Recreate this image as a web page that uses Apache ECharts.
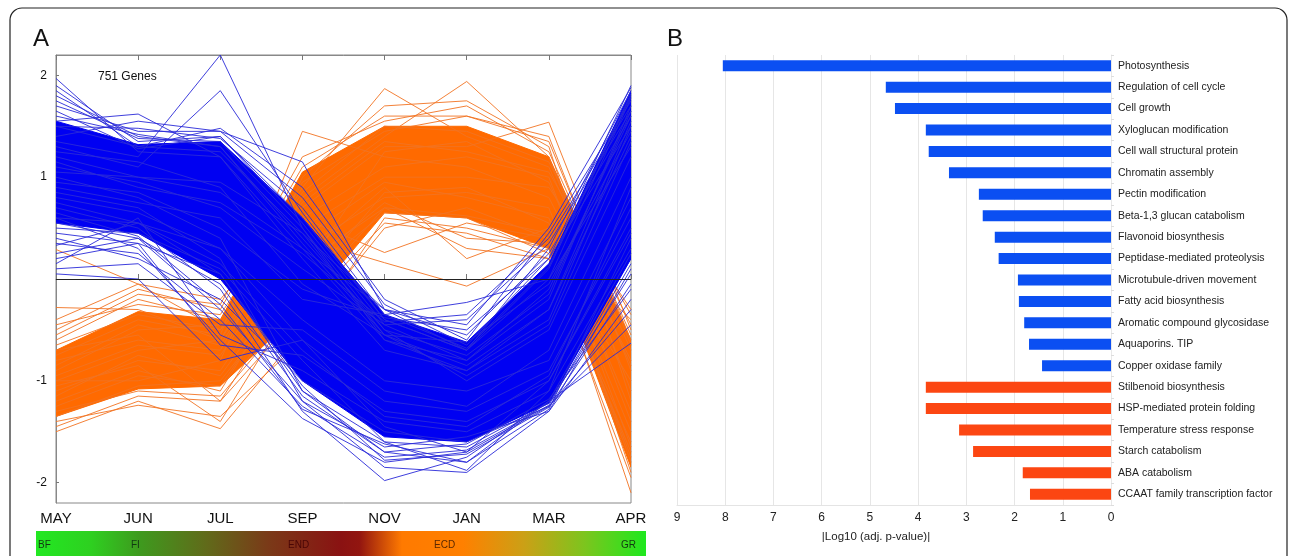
<!DOCTYPE html>
<html>
<head>
<meta charset="utf-8">
<script src="https://cdn.jsdelivr.net/npm/echarts@6/dist/echarts.min.js"></script>
<style>
  html, body { margin: 0; padding: 0; background: #fff; }
  #chart { width: 1290px; height: 556px; }
</style>
</head>
<body>
<div id="chart"></div>
<script>
// ---- Panel A: expression profiles of the two gene clusters ----
const months = ['MAY', 'JUN', 'JUL', 'SEP', 'NOV', 'JAN', 'MAR', 'APR'];
const yLabelValues = [-2, -1, 1, 2];

// dense cores of each cluster (upper / lower envelope per month)
const blueUpper = [1.55, 1.32, 1.35, 0.60, -0.35, -0.62, 0.15, 1.85];
const blueLower = [0.55, 0.45, 0.00, -1.00, -1.55, -1.60, -1.22, 0.20];
const orangeUpper = [-0.70, -0.32, -0.40, 1.05, 1.50, 1.50, 1.20, -0.60];
const orangeLower = [-1.35, -1.08, -1.05, -0.30, 0.65, 0.60, 0.30, -1.85];

// individual profiles around the edges of each cluster
const blueProfiles = [
  [1.97, 1.25, 1.20, 0.30, -0.60, -0.90, -0.40, 1.50],
  [1.90, 1.35, 1.40, 0.55, -0.45, -0.80, -0.20, 1.70],
  [1.85, 1.30, 1.25, 0.45, -0.55, -0.85, -0.30, 1.55],
  [1.80, 1.40, 1.30, 0.40, -0.50, -1.00, -0.50, 1.20],
  [1.75, 1.38, 1.35, 0.50, -0.50, -0.75, -0.15, 1.65],
  [1.70, 1.45, 1.45, 1.15, -0.30, -0.70, 0.10, 1.80],
  [1.65, 1.28, 1.40, 0.60, -0.40, -0.70, 0.00, 1.78],
  [1.60, 1.42, 1.30, 0.35, -0.55, -0.95, -0.45, 1.35],
  [1.55, 1.62, 1.20, 0.20, -0.70, -0.90, -0.30, 1.40],
  [1.50, 1.48, 1.38, 0.70, -0.35, -0.68, 0.12, 1.82],
  [1.40, 1.55, 1.45, 0.80, -0.25, -0.65, 0.20, 1.90],
  [1.35, 1.20, 2.20, 0.50, -0.60, -0.80, -0.10, 1.60],
  [1.30, 1.10, 1.85, 0.65, -0.40, -0.70, 0.30, 1.85],
  [1.50, 1.30, 1.48, 0.90, -0.20, -0.60, 0.45, 1.75],
  [1.25, 1.15, 0.90, -0.05, -0.55, -0.62, -0.05, 1.45],
  [1.20, 1.00, 0.85, 0.30, -0.30, -0.45, 0.50, 1.88],
  [1.15, 0.90, 0.75, 0.25, -0.42, -0.35, 0.40, 1.70],
  [1.10, 0.95, 0.70, 0.10, -0.45, -0.40, 0.35, 1.65],
  [1.05, 1.00, 0.95, 0.45, -0.30, -0.55, 0.25, 1.60],
  [1.00, 0.80, 0.40, -1.10, -1.70, -1.80, -1.28, 0.40],
  [0.95, 0.85, 0.50, -0.10, -0.38, -0.50, 0.20, 1.50],
  [0.90, 0.75, 0.60, -0.20, -0.35, -0.23, 0.00, 1.30],
  [0.85, 0.70, 0.20, -1.20, -1.85, -1.90, -1.30, 0.10],
  [0.80, 0.65, 0.30, -0.60, -1.45, -1.70, -1.00, 0.50],
  [0.75, 0.55, 0.05, -1.05, -1.78, -1.72, -1.26, -0.05],
  [0.70, 0.50, -0.10, -1.30, -1.98, -1.75, -1.20, -0.63],
  [0.65, 0.42, -0.25, -1.28, -1.62, -1.80, -1.20, 0.25],
  [0.60, 0.30, -0.60, -1.37, -1.80, -1.70, -1.25, -0.45],
  [0.60, 0.55, 0.15, -0.70, -1.35, -1.45, -0.95, 0.70],
  [0.55, 0.40, -0.05, -1.15, -1.70, -1.62, -1.18, -0.10],
  [0.50, 0.45, 0.10, -0.80, -1.60, -1.88, -1.10, 0.90],
  [0.45, 0.35, 0.05, -1.10, -1.60, -1.65, -1.22, 0.05],
  [0.40, 0.20, -0.20, -1.00, -1.50, -1.60, -1.25, -0.30],
  [0.35, 0.25, -0.40, -1.25, -1.75, -1.68, -1.24, 0.15],
  [0.33, 0.55, 0.30, -0.40, -1.00, -1.10, -0.80, 0.80],
  [0.25, 0.40, -0.30, -1.20, -1.65, -1.55, -1.30, -0.20],
  [0.20, 0.35, -0.65, -0.75, -1.30, -1.40, -1.00, 0.45],
  [0.15, 0.60, -0.55, -0.90, -1.40, -1.50, -1.10, 0.30],
  [0.10, 0.15, -0.45, -0.50, -1.10, -1.25, -0.70, 1.00],
  [0.05, 0.00, -0.80, -0.60, -1.20, -1.30, -0.90, 0.60]
];
const orangeProfiles = [
  [0.29, -0.05, -0.50, 0.40, 0.16, -0.07, 0.30, -1.00],
  [-0.28, -0.30, -0.60, 0.60, 0.26, 0.55, 0.40, -0.40],
  [-0.40, -0.05, -0.20, 0.75, 1.35, 1.25, 1.05, -0.35],
  [-0.45, -0.25, -0.35, 0.85, 1.50, 1.45, 1.15, -0.45],
  [-0.50, -0.10, -0.30, 1.10, 1.60, 1.60, 1.35, -0.60],
  [-0.55, -0.15, -0.25, 1.20, 1.55, 1.70, 1.25, -0.55],
  [-0.60, -0.20, -0.40, 0.50, 1.00, 1.00, 0.90, -0.30],
  [-0.65, -0.35, -0.50, 0.95, 1.45, 1.60, 1.40, -0.65],
  [-0.70, -0.55, -1.20, 0.05, 1.25, 1.35, 0.95, -0.85],
  [-0.75, -0.40, -0.55, 1.45, 1.20, 1.10, 0.80, -0.80],
  [-0.80, -0.60, -0.70, 0.70, 1.30, 1.30, 1.54, -0.50],
  [-0.85, -0.45, -0.65, 0.60, 1.10, 1.20, 1.00, -1.10],
  [-0.90, -0.50, -0.45, 0.90, 1.87, 1.40, 1.10, -0.70],
  [-0.95, -0.65, -0.75, 0.40, 0.95, 0.80, 0.60, -1.30],
  [-1.00, -0.70, -0.60, 0.80, 1.40, 1.94, 1.20, -0.90],
  [-1.00, -1.00, -0.80, 1.00, 1.70, 1.75, 1.30, -1.20],
  [-1.05, -0.85, -1.40, -0.10, 0.85, 0.90, 0.55, -1.65],
  [-1.10, -0.80, -0.90, 0.30, 0.80, 0.85, 0.70, -1.40],
  [-1.15, -0.75, -0.95, 0.15, 0.70, 0.62, 0.45, -1.50],
  [-1.20, -0.90, -1.10, 0.20, 0.90, 0.20, 0.50, -1.90],
  [-1.25, -0.95, -1.05, 0.10, 0.75, 0.40, 0.35, -1.75],
  [-1.30, -1.10, -1.15, -0.20, 0.70, 0.30, 0.20, -1.60],
  [-1.35, -1.05, -1.00, 0.00, 0.65, 0.60, 0.25, -1.70],
  [-1.40, -1.24, -1.35, -0.60, 0.60, 0.50, 0.30, -2.10],
  [-1.45, -1.15, -1.20, -0.30, 0.55, 0.45, 0.20, -1.95],
  [-1.50, -1.20, -1.47, -0.50, 0.50, 0.70, 0.40, -1.80]
];

// phenological stages shown under the time axis
const stageNames = ['BF', 'FI', 'END', 'ECD', 'GR'];

// ---- Panel B: enriched functional categories ----
const goTerms = [
  'Photosynthesis', 'Regulation of cell cycle', 'Cell growth', 'Xyloglucan modification',
  'Cell wall structural protein', 'Chromatin assembly', 'Pectin modification',
  'Beta-1,3 glucan catabolism', 'Flavonoid biosynthesis', 'Peptidase-mediated proteolysis',
  'Microtubule-driven movement', 'Fatty acid biosynthesis', 'Aromatic compound glycosidase',
  'Aquaporins. TIP', 'Copper oxidase family', 'Stilbenoid biosynthesis',
  'HSP-mediated protein folding', 'Temperature stress response', 'Starch catabolism',
  'ABA catabolism', 'CCAAT family transcription factor'
];
const logPValues = [8.05, 4.67, 4.48, 3.84, 3.78, 3.36, 2.74, 2.66, 2.41, 2.33,
  1.93, 1.91, 1.80, 1.70, 1.43, 3.84, 3.84, 3.15, 2.86, 1.83, 1.68];
const termCluster = ['blue', 'blue', 'blue', 'blue', 'blue', 'blue', 'blue', 'blue', 'blue', 'blue',
  'blue', 'blue', 'blue', 'blue', 'blue', 'orange', 'orange', 'orange', 'orange', 'orange', 'orange'];

const COLORS = {
  blueCore: '#0000f2', blueLine: '#2a2ad8',
  orangeCore: '#ff6a00', orangeLine: '#f27322',
  barBlue: '#0b4ff2', barOrange: '#fc4612'
};

function bandSeries(upper, lower, color, z) {
  return {
    type: 'custom', xAxisIndex: 0, yAxisIndex: 0, silent: true, clip: true, z: z,
    data: [[0, 0]],
    renderItem: function (params, api) {
      const pts = [];
      for (let i = 0; i < upper.length; i++) pts.push(api.coord([i, upper[i]]));
      for (let i = lower.length - 1; i >= 0; i--) pts.push(api.coord([i, lower[i]]));
      return { type: 'polygon', shape: { points: pts }, style: { fill: color, stroke: color, lineWidth: 1 } };
    }
  };
}
function profileSeries(values, color, z) {
  return {
    type: 'line', xAxisIndex: 0, yAxisIndex: 0, silent: true, symbol: 'none', z: z,
    data: values, lineStyle: { color: color, width: 1, opacity: 0.9 }
  };
}

// drawing order: orange cluster first, blue cluster on top
const series = [];
series.push(bandSeries(orangeUpper, orangeLower, COLORS.orangeCore, 1));
orangeProfiles.forEach(p => series.push(profileSeries(p, COLORS.orangeLine, 2)));
series.push(bandSeries(blueUpper, blueLower, COLORS.blueCore, 3));
blueProfiles.forEach(p => series.push(profileSeries(p, COLORS.blueLine, 4)));
// zero reference line
series.push({
  type: 'line', xAxisIndex: 0, yAxisIndex: 0, data: [], silent: true, z: 6,
  markLine: {
    silent: true, symbol: 'none', label: { show: false },
    lineStyle: { color: '#222', width: 1, type: 'solid' },
    data: [{ yAxis: 0 }]
  }
});
series.push({
  type: 'bar', xAxisIndex: 2, yAxisIndex: 1, barWidth: 11, silent: true,
  data: logPValues.map((v, i) => ({
    value: v,
    itemStyle: { color: termCluster[i] === 'blue' ? COLORS.barBlue : COLORS.barOrange }
  }))
});

const stageX = [38, 131, 288, 434, 621];
const stageColors = ['#123812', '#123812', '#4a0606', '#5a2800', '#123812'];

const option = {
  animation: false,
  backgroundColor: '#fff',
  textStyle: { fontFamily: 'Liberation Sans, Arial, sans-serif' },
  grid: [
    { left: 56, top: 55, width: 575, height: 448, show: true, borderColor: '#888', borderWidth: 1 },
    { left: 677, top: 55, width: 434, height: 450 }
  ],
  xAxis: [
    {
      gridIndex: 0, type: 'category', data: months, boundaryGap: false,
      axisLine: { lineStyle: { color: '#888', width: 1 } },
      axisTick: { inside: true, length: 5, lineStyle: { color: '#777' } },
      axisLabel: { color: '#111', fontSize: 15, margin: 8 },
      splitLine: { show: false }
    },
    {
      gridIndex: 0, type: 'category', data: months, boundaryGap: false, position: 'top',
      axisLine: { lineStyle: { color: '#888', width: 1 } },
      axisTick: { inside: true, length: 5, lineStyle: { color: '#777' } },
      axisLabel: { show: false }, splitLine: { show: false }
    },
    {
      gridIndex: 1, type: 'value', inverse: true, min: 0, max: 9, interval: 1,
      axisLine: { show: true, lineStyle: { color: '#e4e4e4' } },
      axisTick: { show: false },
      axisLabel: { color: '#222', fontSize: 12, margin: 7 },
      splitLine: { show: true, lineStyle: { color: '#e6e6e6', width: 1 } },
      name: '|Log10 (adj. p-value)|', nameLocation: 'middle', nameGap: 26,
      nameTextStyle: { color: '#222', fontSize: 11.5, padding: [0, 36, 0, 0] }
    }
  ],
  yAxis: [
    {
      gridIndex: 0, type: 'value', min: -2.2, max: 2.2,
      axisLine: { show: true, lineStyle: { color: '#888' } },
      axisTick: { show: true, inside: true, length: 3, customValues: [-2, -1, 0, 1, 2], lineStyle: { color: '#777' } },
      axisLabel: { color: '#111', fontSize: 12, margin: 9, customValues: yLabelValues },
      splitLine: { show: false }
    },
    {
      gridIndex: 1, type: 'category', data: goTerms, inverse: true, position: 'right',
      axisLine: { show: true, lineStyle: { color: '#e8e8e8' } },
      axisTick: { show: true, length: 3, lineStyle: { color: '#ddd' } },
      axisLabel: { color: '#222', fontSize: 10.5, margin: 7 }
    }
  ],
  graphic: [
    {
      type: 'rect', silent: true, z: 100,
      shape: { x: 10, y: 8, width: 1277, height: 600, r: 12 },
      style: { fill: 'none', stroke: '#222', lineWidth: 1.2 }
    },
    { type: 'text', left: 33, top: 27, style: { text: 'A', fontSize: 24, fill: '#111', fontFamily: 'Liberation Sans, Arial' } },
    { type: 'text', left: 667, top: 27, style: { text: 'B', fontSize: 24, fill: '#111', fontFamily: 'Liberation Sans, Arial' } },
    { type: 'text', left: 98, top: 71, z: 50, style: { text: '751 Genes', fontSize: 12, fill: '#111', fontFamily: 'Liberation Sans, Arial' } },
    {
      type: 'rect', silent: true, z: 10,
      shape: { x: 36, y: 531, width: 610, height: 30 },
      style: {
        fill: new echarts.graphic.LinearGradient(0, 0, 1, 0, [
          { offset: 0.00, color: '#22e822' },
          { offset: 0.09, color: '#2ed020' },
          { offset: 0.17, color: '#3e9a1e' },
          { offset: 0.28, color: '#616a1a' },
          { offset: 0.38, color: '#7a3a18' },
          { offset: 0.50, color: '#8a1212' },
          { offset: 0.53, color: '#921510' },
          { offset: 0.60, color: '#ff7a00' },
          { offset: 0.70, color: '#ff8000' },
          { offset: 0.80, color: '#cba016' },
          { offset: 0.90, color: '#7cc51e' },
          { offset: 1.00, color: '#1ee81e' }
        ])
      }
    }
  ].concat(stageNames.map((s, i) => ({
    type: 'text', left: stageX[i], top: 540, z: 11,
    style: { text: s, fontSize: 10, fill: stageColors[i], fontFamily: 'Liberation Sans, Arial' }
  }))),
  series: series
};

const chart = echarts.init(document.getElementById('chart'), null, { renderer: 'canvas' });
chart.setOption(option);
</script>
</body>
</html>
